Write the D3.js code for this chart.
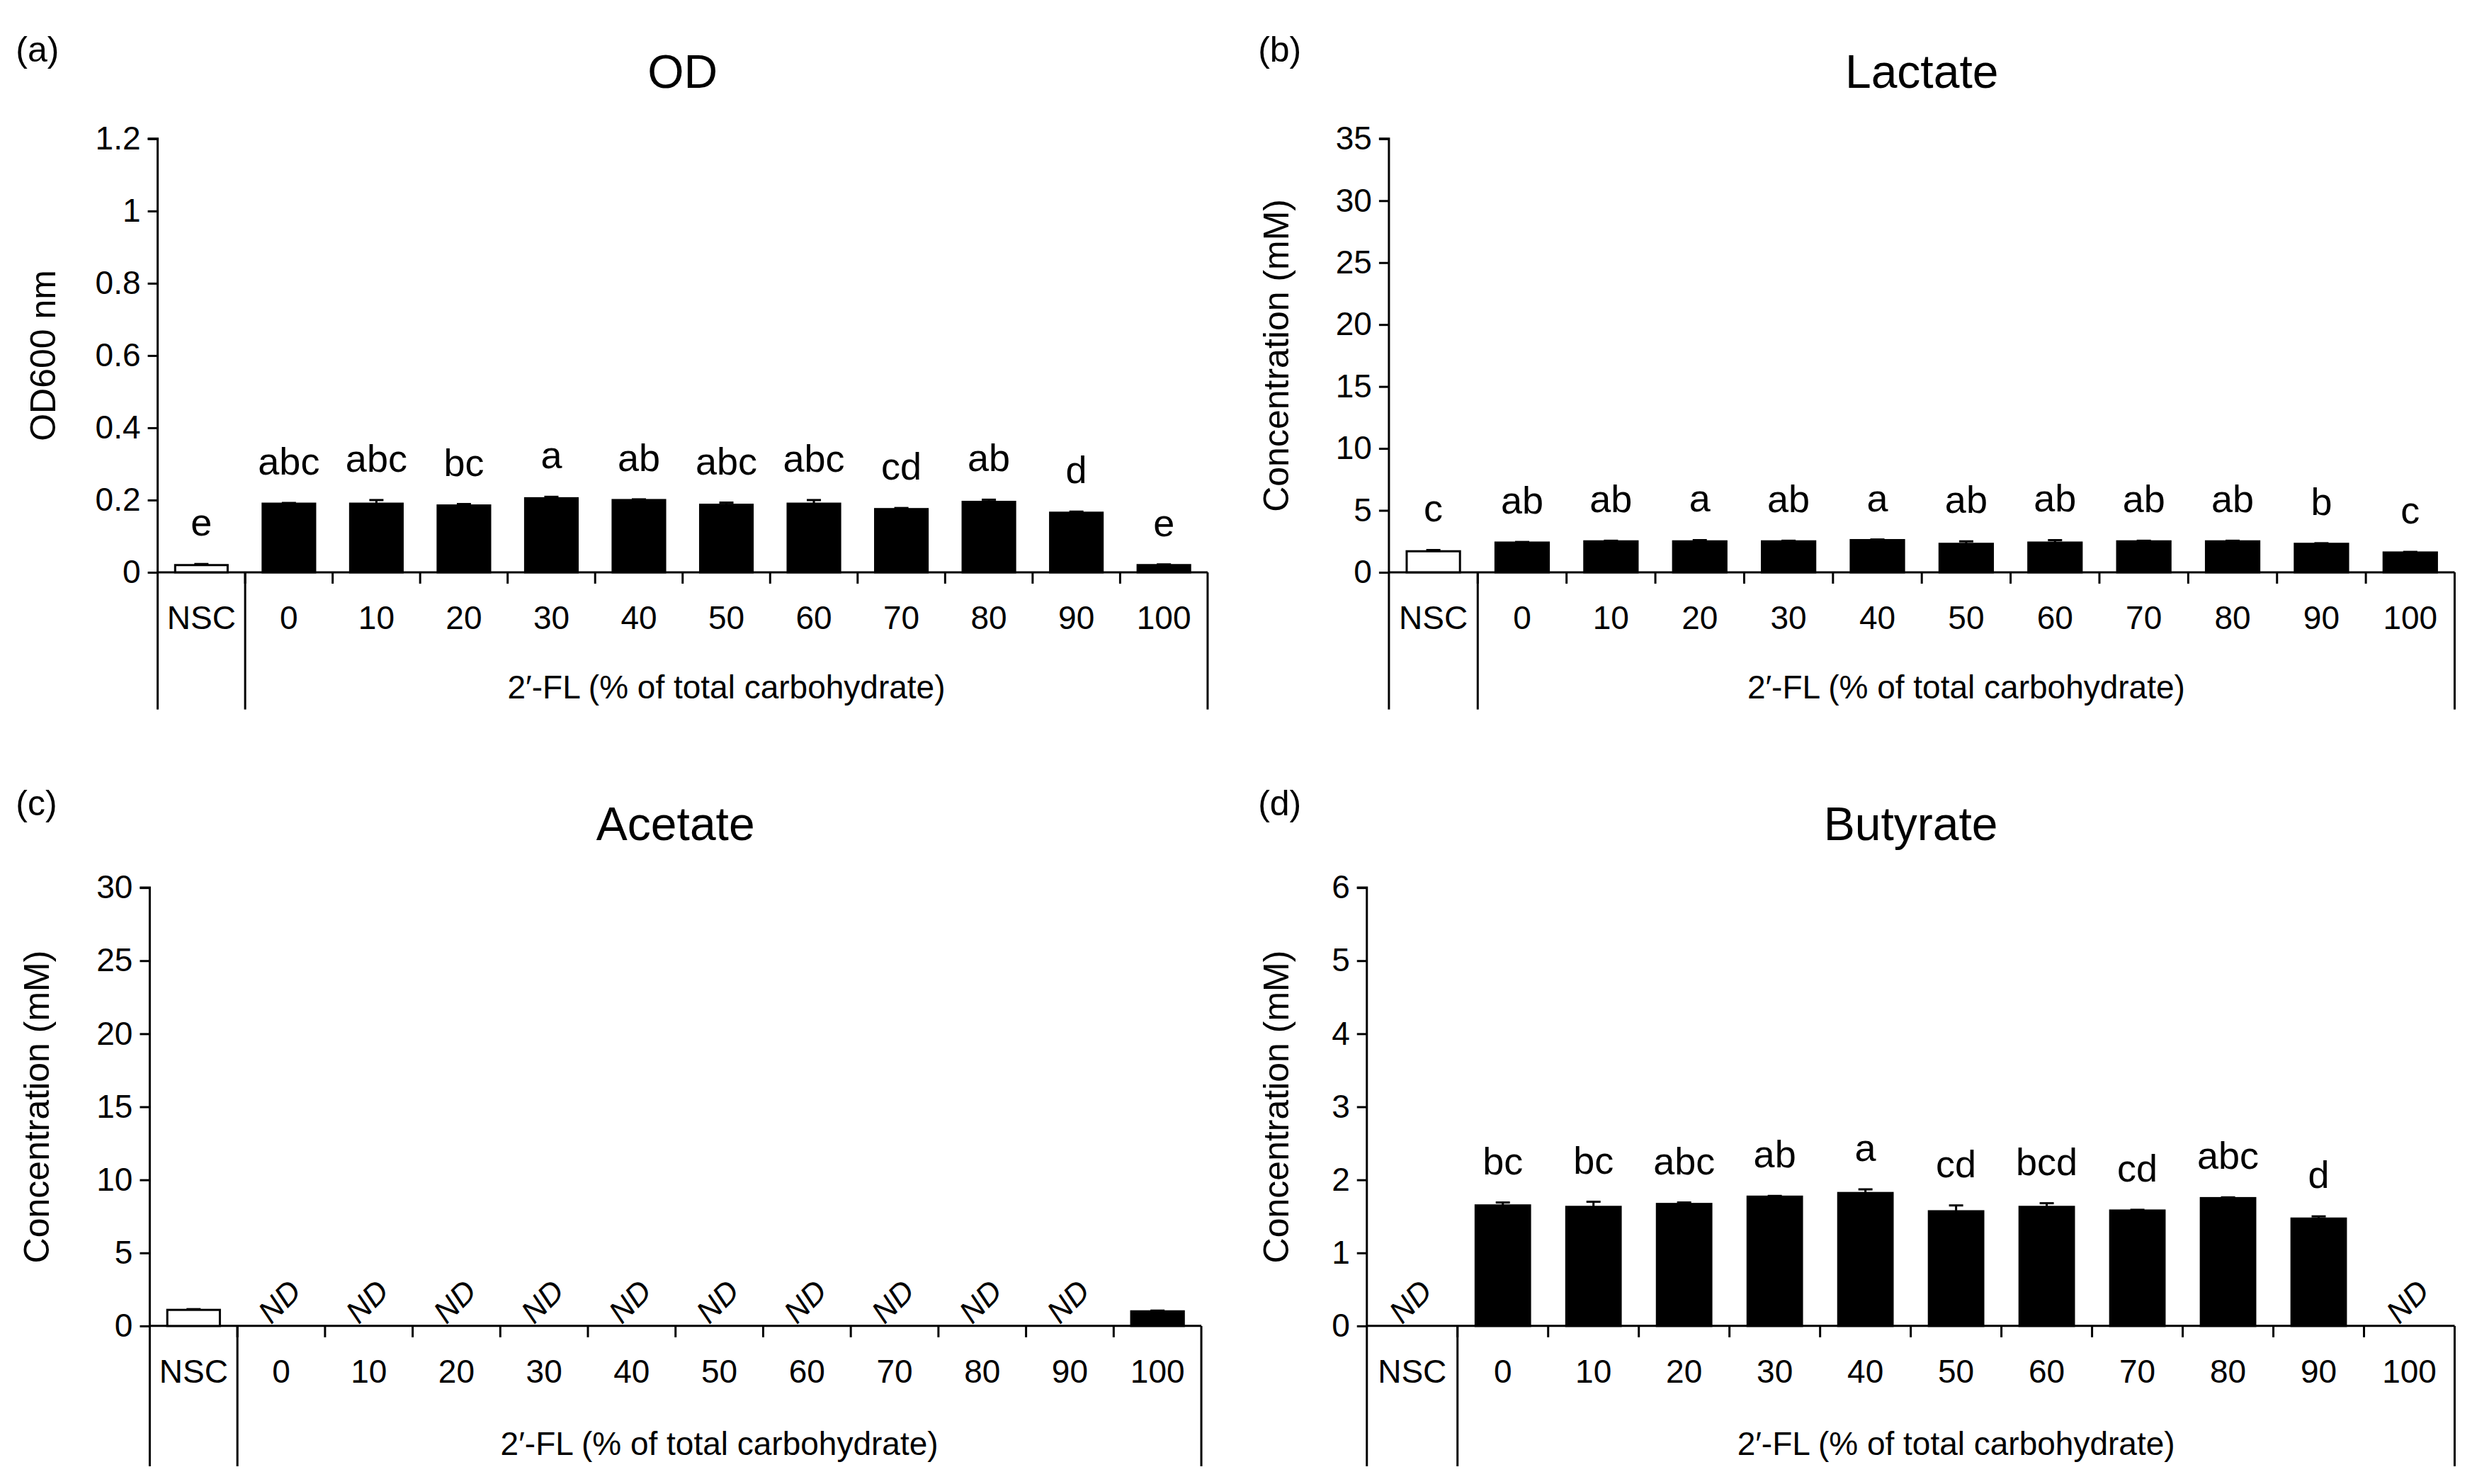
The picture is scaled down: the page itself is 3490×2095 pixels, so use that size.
<!DOCTYPE html>
<html><head><meta charset="utf-8">
<script src="https://cdn.jsdelivr.net/npm/d3@7"></script>
<style>body{margin:0;background:#fff}svg{font-family:"Liberation Sans",Arial,sans-serif}</style>
</head><body>
<svg id="c" width="3490" height="2095"></svg>
<script>
const categories=["NSC","0","10","20","30","40","50","60","70","80","90","100"];
const odValues=[0.02,0.19,0.19,0.185,0.205,0.2,0.187,0.19,0.175,0.195,0.165,0.02];
const odErrors=[0.003,0.002,0.01,0.004,0.004,0.002,0.006,0.01,0.003,0.006,0.003,0.002];
const odLetters=["e","abc","abc","bc","a","ab","abc","abc","cd","ab","d","e"];
const lacValues=[1.7,2.4,2.5,2.5,2.5,2.6,2.3,2.4,2.5,2.5,2.3,1.6];
const lacErrors=[0.1,0.05,0.05,0.1,0.05,0.05,0.2,0.2,0.05,0.05,0.05,0.05];
const lacLetters=["c","ab","ab","a","ab","a","ab","ab","ab","ab","b","c"];
const aceValues=[1.1,null,null,null,null,null,null,null,null,null,null,1.0];
const aceErrors=[0.05,0,0,0,0,0,0,0,0,0,0,0.05];
const aceLetters=["","ND","ND","ND","ND","ND","ND","ND","ND","ND","ND",""];
const butValues=[null,1.65,1.63,1.67,1.77,1.82,1.57,1.63,1.58,1.75,1.47,null];
const butErrors=[0,0.04,0.07,0.02,0.01,0.05,0.08,0.05,0.01,0.01,0.03,0];
const butLetters=["ND","bc","bc","abc","ab","a","cd","bcd","cd","abc","d","ND"];
const xTitle="2\u2032-FL (% of total carbohydrate)";

const S=3490/1568;
const panels=[
 {tag:"(a)",title:"OD",ylab:"OD600 nm",v:odValues,e:odErrors,l:odLetters,max:1.2,step:0.2,x0:100,x1:766,yt:88,y0:363,yb:450,tagY:30,titleY:45,labX:28},
 {tag:"(b)",title:"Lactate",ylab:"Concentration (mM)",v:lacValues,e:lacErrors,l:lacLetters,max:35,step:5,x0:881,x1:1557,yt:88,y0:363,yb:450,tagY:30,titleY:45,labX:810},
 {tag:"(c)",title:"Acetate",ylab:"Concentration (mM)",v:aceValues,e:aceErrors,l:aceLetters,max:30,step:5,x0:95,x1:762,yt:563,y0:841,yb:930,tagY:508,titleY:522,labX:24},
 {tag:"(d)",title:"Butyrate",ylab:"Concentration (mM)",v:butValues,e:butErrors,l:butLetters,max:6,step:1,x0:867,x1:1557,yt:563,y0:841,yb:930,tagY:508,titleY:522,labX:810}
];
const svg=d3.select("#c");
panels.forEach((p,pi)=>{
 const g=svg.append("g");
 const x=d3.scaleBand().domain(categories).range([p.x0*S,p.x1*S]).paddingInner(0.4).paddingOuter(0.2);
 const xb=d3.scaleBand().domain(categories).range([p.x0*S,p.x1*S]);
 const y=d3.scaleLinear().domain([0,p.max]).range([p.y0*S,p.yt*S]);
 const ticks=d3.range(0,p.max+p.step/2,p.step);
 const ya=g.append("g").attr("transform",`translate(${p.x0*S},0)`)
  .call(d3.axisLeft(y).tickValues(ticks).tickSize(14).tickPadding(10).tickFormat(d=>+d.toFixed(1)+""));
 ya.select(".domain").attr("stroke-width",3).attr("d",`M-14,${y(p.max)}H0V${y(0)}`);
 ya.selectAll(".tick line").attr("stroke-width",3);
 ya.selectAll("text").attr("font-size",46).attr("font-family","Liberation Sans");
 // x axis line
 g.append("line").attr("x1",p.x0*S).attr("x2",p.x1*S).attr("y1",y(0)).attr("y2",y(0)).attr("stroke","#000").attr("stroke-width",3);
 categories.forEach((c,i)=>{ if(i>0) g.append("line").attr("x1",xb(c)).attr("x2",xb(c)).attr("y1",y(0)).attr("y2",y(0)+16).attr("stroke","#000").attr("stroke-width",3);});
 [p.x0*S,xb("0"),p.x1*S].forEach(xx=>g.append("line").attr("x1",xx).attr("x2",xx).attr("y1",y(0)).attr("y2",p.yb*S).attr("stroke","#000").attr("stroke-width",3));
 // bars
 categories.forEach((c,i)=>{
  const v=p.v[i];
  if(v!=null){
   g.append("rect").attr("x",x(c)).attr("width",x.bandwidth()).attr("y",y(v)).attr("height",y(0)-y(v))
    .attr("fill",i==0?"#fff":"#000").attr("stroke","#000").attr("stroke-width",3);
   const cx=x(c)+x.bandwidth()/2;
   g.append("line").attr("x1",cx).attr("x2",cx).attr("y1",y(v)).attr("y2",y(v+p.e[i])).attr("stroke","#000").attr("stroke-width",3);
   g.append("line").attr("x1",cx-10).attr("x2",cx+10).attr("y1",y(v+p.e[i])).attr("y2",y(v+p.e[i])).attr("stroke","#000").attr("stroke-width",3);
  }
  const lab=p.l[i];
  const cx=xb(c)+xb.bandwidth()/2;
  if(lab==="ND"){
   g.append("text").attr("transform",`translate(${cx},${y(0)-32}) rotate(-45)`).attr("text-anchor","middle")
    .attr("font-style","italic").attr("font-size",44).attr("dominant-baseline","middle").text("ND");
  } else if(lab){
   g.append("text").attr("x",cx).attr("y",y(v+p.e[i])-40).attr("text-anchor","middle").attr("font-size",54).text(lab);
  }
  g.append("text").attr("x",cx).attr("y",y(0)+80).attr("text-anchor","middle").attr("font-size",46).text(c);
 });
 g.append("text").attr("x",(xb("0")+p.x1*S)/2).attr("y",p.yb*S-16).attr("text-anchor","middle").attr("font-size",46).text(xTitle);
 g.append("text").attr("transform",`translate(${p.labX*S+16},${(y(0)+y(p.max))/2}) rotate(-90)`).attr("text-anchor","middle").attr("font-size",50).attr("font-family","Liberation Sans").text(p.ylab);
 g.append("text").attr("x",(p.x0+p.x1)/2*S).attr("y",p.titleY*S+24).attr("text-anchor","middle").attr("font-size",66).text(p.title);
 g.append("text").attr("x",(pi%2==0?10:798)*S).attr("y",p.tagY*S+20).attr("font-size",50).text(p.tag);
});
</script></body></html>
